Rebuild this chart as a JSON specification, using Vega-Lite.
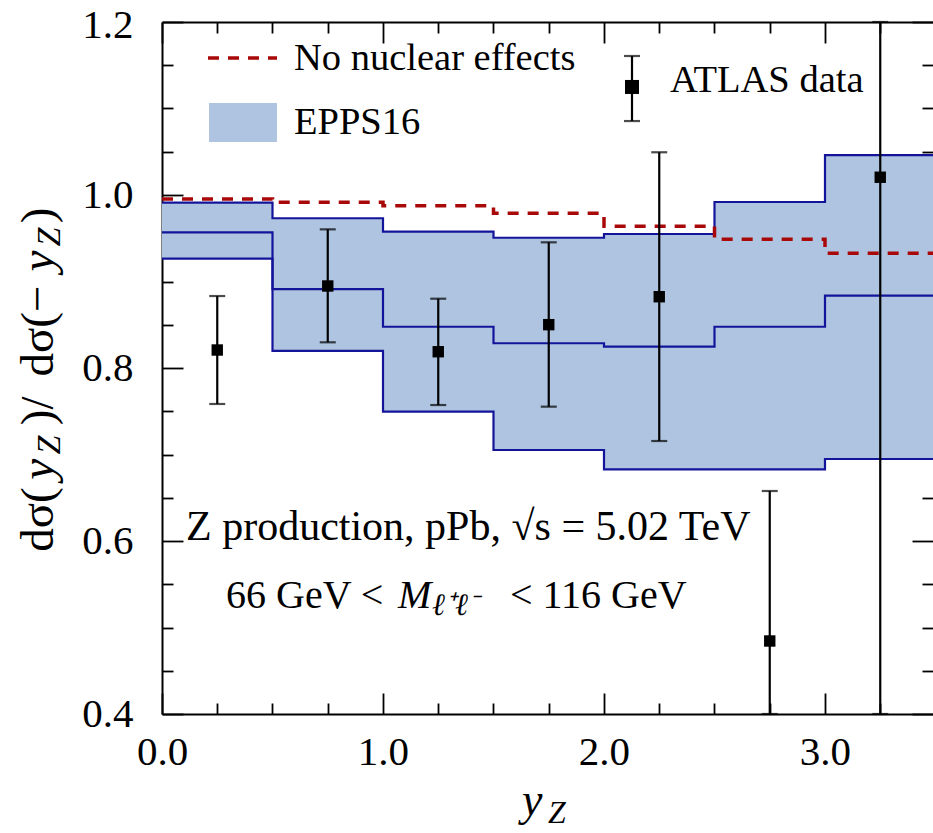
{
  "$schema": "https://vega.github.io/schema/vega-lite/v6.json",
  "width": 771,
  "height": 692,
  "autosize": "none",
  "padding": {"left": 162, "top": 22, "right": 0, "bottom": 119},
  "background": "white",
  "config": {"view": {"stroke": null}, "font": "Liberation Serif", "text": {"font": "Liberation Serif", "color": "black"}},
  "datasets": {
    "band": [
      {"x": 0, "lo": 0.9264, "mid": 0.9569, "hi": 0.9911, "nne": 0.9954},
      {"x": 0.5, "lo": 0.8197, "mid": 0.8913, "hi": 0.9731, "nne": 0.9916},
      {"x": 1, "lo": 0.7495, "mid": 0.8477, "hi": 0.9576, "nne": 0.9876},
      {"x": 1.5, "lo": 0.7052, "mid": 0.8286, "hi": 0.9506, "nne": 0.9788},
      {"x": 2, "lo": 0.6829, "mid": 0.8246, "hi": 0.9549, "nne": 0.9638},
      {"x": 2.5, "lo": 0.6829, "mid": 0.8477, "hi": 0.9919, "nne": 0.9488},
      {"x": 3, "lo": 0.6948, "mid": 0.8836, "hi": 1.0462, "nne": 0.9326},
      {"x": 3.5, "lo": 0.6948, "mid": 0.8836, "hi": 1.0462, "nne": 0.9326}
    ],
    "atlas": [
      {"x": 0.25, "y": 0.8208, "lo": 0.7584, "hi": 0.8832},
      {"x": 0.75, "y": 0.8948, "lo": 0.8297, "hi": 0.9603},
      {"x": 1.25, "y": 0.8188, "lo": 0.7572, "hi": 0.8801},
      {"x": 1.75, "y": 0.8501, "lo": 0.7553, "hi": 0.9453},
      {"x": 2.25, "y": 0.8824, "lo": 0.7156, "hi": 1.0494},
      {"x": 2.75, "y": 0.4844, "lo": 0.4, "hi": 0.6578},
      {"x": 3.25, "y": 1.0205, "lo": 0.4, "hi": 1.2}
    ],
    "legendMarker": [{"x": 2.1267, "y": 1.1249, "lo": 1.0855, "hi": 1.1607}],
    "legendLine": [{"x": 0.2081, "y": 1.1584}, {"x": 0.5204, "y": 1.1584}],
    "legendBox": [{"x": 0.2127, "x2": 0.5204, "y": 1.1064, "y2": 1.0613}],
    "legendText": [
      {"x": 0.5973, "y": 1.1584, "t": "No nuclear effects"},
      {"x": 0.5973, "y": 1.0844, "t": "EPPS16"},
      {"x": 2.2986, "y": 1.1324, "t": "ATLAS data"}
    ],
    "note": [
      {"x": 0.1086, "y": 0.6162, "t": "Z production, pPb, √s = 5.02 TeV"}
    ],
    "note2": [
      {"x": 0.2896, "y": 0.5364, "t": "66 GeV <"},
      {"x": 1.5747, "y": 0.5364, "t": "< 116 GeV"}
    ],
    "noteM": [{"x": 1.0679, "y": 0.5364, "t": "M"}],
    "noteSub": [{"x": 1.2217, "y": 0.5249, "t": "ℓ⁺ℓ⁻"}],
    "xtitle": [{"x": 1.629, "y": 0.2832, "t": "y"}],
    "xtitleSub": [{"x": 1.7466, "y": 0.274, "t": "Z"}],
    "ytitle": [
      {"x": -0.4932, "y": 0.6249, "t": "dσ("},
      {"x": -0.4932, "y": 0.7505, "t": ")/"},
      {"x": -0.4932, "y": 0.8428, "t": "dσ(−"},
      {"x": -0.4932, "y": 0.9765, "t": ")"}
    ],
    "ytitleY": [{"x": -0.4932, "y": 0.683, "t": "y"}, {"x": -0.4932, "y": 0.9235, "t": "y"}],
    "ytitleZ": [{"x": -0.4615, "y": 0.711, "t": "Z"}, {"x": -0.4615, "y": 0.9514, "t": "Z"}]
  },
  "layer": [
    {
      "data": {"name": "band"},
      "mark": {"type": "area", "interpolate": "step-after", "color": "#aec4e0", "opacity": 1, "clip": true},
      "encoding": {
        "x": {"field": "x", "type": "quantitative", "scale": {"domain": [0, 3.4887], "nice": false, "zero": false},
          "axis": {"orient": "bottom", "values": [0, 0.25, 0.5, 0.75, 1, 1.25, 1.5, 1.75, 2, 2.25, 2.5, 2.75, 3, 3.25],
            "labelExpr": "datum.value % 1 == 0 ? format(datum.value, '.1f') : ''",
            "tickSize": {"condition": {"test": "datum.value % 1 == 0", "value": -21}, "value": -11},
            "tickWidth": 1.8, "tickColor": "black", "domainColor": "black", "domainWidth": 2,
            "labelFont": "Liberation Serif", "labelFontSize": 41, "labelColor": "black", "labelPadding": 39,
            "labelOverlap": false, "labelFlush": false, "grid": false, "title": null}},
        "y": {"field": "hi", "type": "quantitative", "scale": {"domain": [0.4, 1.2], "nice": false, "zero": false},
          "axis": {"orient": "left", "values": [0.4, 0.45, 0.5, 0.55, 0.6, 0.65, 0.7, 0.75, 0.8, 0.85, 0.9, 0.95, 1, 1.05, 1.1, 1.15, 1.2],
            "labelExpr": "abs(datum.value*5 - round(datum.value*5)) < 0.001 ? format(datum.value, '.1f') : ''",
            "tickSize": {"condition": {"test": "abs(datum.value*5 - round(datum.value*5)) < 0.001", "value": -21}, "value": -11},
            "labelOffset": {"condition": {"test": "datum.value > 1.19", "value": 3}, "value": 0},
            "tickWidth": 1.8, "tickColor": "black", "domainColor": "black", "domainWidth": 2,
            "labelFont": "Liberation Serif", "labelFontSize": 41, "labelColor": "black", "labelPadding": 50, "labelBaseline": "middle",
            "labelOverlap": false, "labelFlush": false, "grid": false, "title": null}},
        "y2": {"field": "lo"}
      }
    },
    {
      "data": {"name": "band"},
      "mark": {"type": "line", "interpolate": "step-after", "color": "#14149a", "strokeWidth": 2.2, "clip": true},
      "encoding": {
        "x": {"field": "x", "type": "quantitative", "scale": {"domain": [0, 3.4887], "nice": false, "zero": false},
          "axis": {"orient": "top", "values": [0, 0.25, 0.5, 0.75, 1, 1.25, 1.5, 1.75, 2, 2.25, 2.5, 2.75, 3, 3.25],
            "labels": false,
            "tickSize": {"condition": {"test": "datum.value % 1 == 0", "value": -21}, "value": -11},
            "tickWidth": 1.8, "tickColor": "black", "domainColor": "black", "domainWidth": 2, "grid": false, "title": null}},
        "y": {"field": "hi", "type": "quantitative", "scale": {"domain": [0.4, 1.2], "nice": false, "zero": false},
          "axis": {"orient": "right", "values": [0.4, 0.45, 0.5, 0.55, 0.6, 0.65, 0.7, 0.75, 0.8, 0.85, 0.9, 0.95, 1, 1.05, 1.1, 1.15, 1.2],
            "labels": false, "domain": false,
            "tickSize": {"condition": {"test": "abs(datum.value*5 - round(datum.value*5)) < 0.001", "value": -21}, "value": -11},
            "tickWidth": 1.8, "tickColor": "black", "grid": false, "title": null}}
      }
    },
    {
      "data": {"name": "band"},
      "mark": {"type": "line", "interpolate": "step-after", "color": "#14149a", "strokeWidth": 2.2, "clip": true},
      "encoding": {
        "x": {"field": "x", "type": "quantitative", "scale": {"domain": [0, 3.4887], "nice": false, "zero": false}, "axis": null},
        "y": {"field": "mid", "type": "quantitative", "scale": {"domain": [0.4, 1.2], "nice": false, "zero": false}, "axis": null}
      }
    },
    {
      "data": {"name": "band"},
      "mark": {"type": "line", "interpolate": "step-after", "color": "#14149a", "strokeWidth": 2.2, "clip": true},
      "encoding": {
        "x": {"field": "x", "type": "quantitative", "scale": {"domain": [0, 3.4887], "nice": false, "zero": false}, "axis": null},
        "y": {"field": "lo", "type": "quantitative", "scale": {"domain": [0.4, 1.2], "nice": false, "zero": false}, "axis": null}
      }
    },
    {
      "data": {"name": "band"},
      "mark": {"type": "line", "interpolate": "step-after", "color": "#a80808", "strokeWidth": 3.5, "strokeDash": [11, 9], "clip": true},
      "encoding": {
        "x": {"field": "x", "type": "quantitative", "scale": {"domain": [0, 3.4887], "nice": false, "zero": false}, "axis": null},
        "y": {"field": "nne", "type": "quantitative", "scale": {"domain": [0.4, 1.2], "nice": false, "zero": false}, "axis": null}
      }
    },
    {
      "data": {"name": "atlas"},
      "layer": [
        {"mark": {"type": "rule", "color": "black", "strokeWidth": 2.2},
          "encoding": {
            "x": {"field": "x", "type": "quantitative", "scale": {"domain": [0, 3.4887], "nice": false, "zero": false}, "axis": null},
            "y": {"field": "lo", "type": "quantitative", "scale": {"domain": [0.4, 1.2], "nice": false, "zero": false}, "axis": null},
            "y2": {"field": "hi"}}},
        {"mark": {"type": "tick", "orient": "horizontal", "color": "black", "size": 16, "thickness": 2.2},
          "encoding": {
            "x": {"field": "x", "type": "quantitative", "scale": {"domain": [0, 3.4887], "nice": false, "zero": false}, "axis": null},
            "y": {"field": "lo", "type": "quantitative", "scale": {"domain": [0.4, 1.2], "nice": false, "zero": false}, "axis": null}}},
        {"mark": {"type": "tick", "orient": "horizontal", "color": "black", "size": 16, "thickness": 2.2},
          "encoding": {
            "x": {"field": "x", "type": "quantitative", "scale": {"domain": [0, 3.4887], "nice": false, "zero": false}, "axis": null},
            "y": {"field": "hi", "type": "quantitative", "scale": {"domain": [0.4, 1.2], "nice": false, "zero": false}, "axis": null}}},
        {"mark": {"type": "square", "color": "black", "filled": true, "opacity": 1, "size": 130},
          "encoding": {
            "x": {"field": "x", "type": "quantitative", "scale": {"domain": [0, 3.4887], "nice": false, "zero": false}, "axis": null},
            "y": {"field": "y", "type": "quantitative", "scale": {"domain": [0.4, 1.2], "nice": false, "zero": false}, "axis": null}}}
      ]
    },
    {
      "data": {"name": "legendMarker"},
      "layer": [
        {"mark": {"type": "rule", "color": "black", "strokeWidth": 2.2},
          "encoding": {
            "x": {"field": "x", "type": "quantitative", "scale": {"domain": [0, 3.4887], "nice": false, "zero": false}, "axis": null},
            "y": {"field": "lo", "type": "quantitative", "scale": {"domain": [0.4, 1.2], "nice": false, "zero": false}, "axis": null},
            "y2": {"field": "hi"}}},
        {"mark": {"type": "tick", "orient": "horizontal", "color": "black", "size": 16, "thickness": 2.2},
          "encoding": {
            "x": {"field": "x", "type": "quantitative", "scale": {"domain": [0, 3.4887], "nice": false, "zero": false}, "axis": null},
            "y": {"field": "lo", "type": "quantitative", "scale": {"domain": [0.4, 1.2], "nice": false, "zero": false}, "axis": null}}},
        {"mark": {"type": "tick", "orient": "horizontal", "color": "black", "size": 16, "thickness": 2.2},
          "encoding": {
            "x": {"field": "x", "type": "quantitative", "scale": {"domain": [0, 3.4887], "nice": false, "zero": false}, "axis": null},
            "y": {"field": "hi", "type": "quantitative", "scale": {"domain": [0.4, 1.2], "nice": false, "zero": false}, "axis": null}}},
        {"mark": {"type": "square", "color": "black", "filled": true, "opacity": 1, "size": 196},
          "encoding": {
            "x": {"field": "x", "type": "quantitative", "scale": {"domain": [0, 3.4887], "nice": false, "zero": false}, "axis": null},
            "y": {"field": "y", "type": "quantitative", "scale": {"domain": [0.4, 1.2], "nice": false, "zero": false}, "axis": null}}}
      ]
    },
    {
      "data": {"name": "legendLine"},
      "mark": {"type": "line", "color": "#a80808", "strokeWidth": 3.5, "strokeDash": [11, 9]},
      "encoding": {
        "x": {"field": "x", "type": "quantitative", "scale": {"domain": [0, 3.4887], "nice": false, "zero": false}, "axis": null},
        "y": {"field": "y", "type": "quantitative", "scale": {"domain": [0.4, 1.2], "nice": false, "zero": false}, "axis": null}
      }
    },
    {
      "data": {"name": "legendBox"},
      "mark": {"type": "rect", "color": "#aec4e0", "opacity": 1},
      "encoding": {
        "x": {"field": "x", "type": "quantitative", "scale": {"domain": [0, 3.4887], "nice": false, "zero": false}, "axis": null},
        "x2": {"field": "x2"},
        "y": {"field": "y", "type": "quantitative", "scale": {"domain": [0.4, 1.2], "nice": false, "zero": false}, "axis": null},
        "y2": {"field": "y2"}
      }
    },
    {
      "data": {"name": "legendText"},
      "mark": {"type": "text", "align": "left", "baseline": "middle", "fontSize": 38.5, "font": "Liberation Serif", "color": "black"},
      "encoding": {
        "x": {"field": "x", "type": "quantitative", "scale": {"domain": [0, 3.4887], "nice": false, "zero": false}, "axis": null},
        "y": {"field": "y", "type": "quantitative", "scale": {"domain": [0.4, 1.2], "nice": false, "zero": false}, "axis": null},
        "text": {"field": "t"}
      }
    },
    {
      "data": {"name": "note"},
      "mark": {"type": "text", "align": "left", "baseline": "middle", "fontSize": 42, "font": "Liberation Serif", "color": "black"},
      "encoding": {
        "x": {"field": "x", "type": "quantitative", "scale": {"domain": [0, 3.4887], "nice": false, "zero": false}, "axis": null},
        "y": {"field": "y", "type": "quantitative", "scale": {"domain": [0.4, 1.2], "nice": false, "zero": false}, "axis": null},
        "text": {"field": "t"}
      }
    },
    {
      "data": {"name": "note2"},
      "mark": {"type": "text", "align": "left", "baseline": "middle", "fontSize": 40, "font": "Liberation Serif", "color": "black"},
      "encoding": {
        "x": {"field": "x", "type": "quantitative", "scale": {"domain": [0, 3.4887], "nice": false, "zero": false}, "axis": null},
        "y": {"field": "y", "type": "quantitative", "scale": {"domain": [0.4, 1.2], "nice": false, "zero": false}, "axis": null},
        "text": {"field": "t"}
      }
    },
    {
      "data": {"name": "noteM"},
      "mark": {"type": "text", "align": "left", "baseline": "middle", "fontSize": 40, "fontStyle": "italic", "font": "Liberation Serif", "color": "black"},
      "encoding": {
        "x": {"field": "x", "type": "quantitative", "scale": {"domain": [0, 3.4887], "nice": false, "zero": false}, "axis": null},
        "y": {"field": "y", "type": "quantitative", "scale": {"domain": [0.4, 1.2], "nice": false, "zero": false}, "axis": null},
        "text": {"field": "t"}
      }
    },
    {
      "data": {"name": "noteSub"},
      "mark": {"type": "text", "align": "left", "baseline": "middle", "fontSize": 31, "fontStyle": "italic", "font": "Liberation Serif", "color": "black"},
      "encoding": {
        "x": {"field": "x", "type": "quantitative", "scale": {"domain": [0, 3.4887], "nice": false, "zero": false}, "axis": null},
        "y": {"field": "y", "type": "quantitative", "scale": {"domain": [0.4, 1.2], "nice": false, "zero": false}, "axis": null},
        "text": {"field": "t"}
      }
    },
    {
      "data": {"name": "xtitle"},
      "mark": {"type": "text", "align": "left", "baseline": "alphabetic", "fontSize": 46, "fontStyle": "italic", "font": "Liberation Serif", "color": "black"},
      "encoding": {
        "x": {"field": "x", "type": "quantitative", "scale": {"domain": [0, 3.4887], "nice": false, "zero": false}, "axis": null},
        "y": {"field": "y", "type": "quantitative", "scale": {"domain": [0.4, 1.2], "nice": false, "zero": false}, "axis": null},
        "text": {"field": "t"}
      }
    },
    {
      "data": {"name": "xtitleSub"},
      "mark": {"type": "text", "align": "left", "baseline": "alphabetic", "fontSize": 32, "fontStyle": "italic", "font": "Liberation Serif", "color": "black"},
      "encoding": {
        "x": {"field": "x", "type": "quantitative", "scale": {"domain": [0, 3.4887], "nice": false, "zero": false}, "axis": null},
        "y": {"field": "y", "type": "quantitative", "scale": {"domain": [0.4, 1.2], "nice": false, "zero": false}, "axis": null},
        "text": {"field": "t"}
      }
    },
    {
      "data": {"name": "ytitle"},
      "mark": {"type": "text", "align": "center", "baseline": "alphabetic", "angle": 270, "fontSize": 47, "font": "Liberation Serif", "color": "black"},
      "encoding": {
        "x": {"field": "x", "type": "quantitative", "scale": {"domain": [0, 3.4887], "nice": false, "zero": false}, "axis": null},
        "y": {"field": "y", "type": "quantitative", "scale": {"domain": [0.4, 1.2], "nice": false, "zero": false}, "axis": null},
        "text": {"field": "t"}
      }
    },
    {
      "data": {"name": "ytitleY"},
      "mark": {"type": "text", "align": "center", "baseline": "alphabetic", "angle": 270, "fontSize": 47, "fontStyle": "italic", "font": "Liberation Serif", "color": "black"},
      "encoding": {
        "x": {"field": "x", "type": "quantitative", "scale": {"domain": [0, 3.4887], "nice": false, "zero": false}, "axis": null},
        "y": {"field": "y", "type": "quantitative", "scale": {"domain": [0.4, 1.2], "nice": false, "zero": false}, "axis": null},
        "text": {"field": "t"}
      }
    },
    {
      "data": {"name": "ytitleZ"},
      "mark": {"type": "text", "align": "center", "baseline": "alphabetic", "angle": 270, "fontSize": 34, "fontStyle": "italic", "font": "Liberation Serif", "color": "black"},
      "encoding": {
        "x": {"field": "x", "type": "quantitative", "scale": {"domain": [0, 3.4887], "nice": false, "zero": false}, "axis": null},
        "y": {"field": "y", "type": "quantitative", "scale": {"domain": [0.4, 1.2], "nice": false, "zero": false}, "axis": null},
        "text": {"field": "t"}
      }
    }
  ],
  "resolve": {"axis": {"x": "independent", "y": "independent"}}
}
